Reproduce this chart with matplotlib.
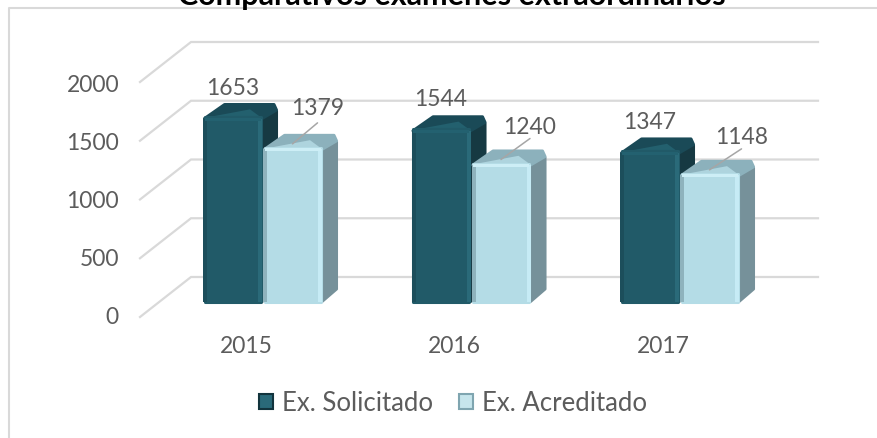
import matplotlib
matplotlib.use("Agg")
import matplotlib.pyplot as plt
from matplotlib.lines import Line2D
from matplotlib.patches import Polygon, Patch

years = ["2015", "2016", "2017"]
solicitado = [1653, 1544, 1347]
acreditado = [1379, 1240, 1148]
axis_ticks = [0, 500, 1000, 1500, 2000]
title = "Comparativos examenes extraordinarios"
series_names = ["Ex. Solicitado", "Ex. Acreditado"]

W, H = 878, 439
plt.rcParams["font.family"] = ["Lato", "DejaVu Sans"]
fig = plt.figure(figsize=(W / 100, H / 100), dpi=100)
TXT = "#5c5c5c"
GRID = "#d9d9d9"
WEIGHT = "normal"

def make_axes(y0_px, px_per_unit, z):
    """Full-figure axes: category i at x=262.5+208.5*i px, value 0 at y0_px."""
    ax = fig.add_axes([0, 0, 1, 1], zorder=z)
    ax.set_xlim(-262.5 / 208.5, (W - 262.5) / 208.5)
    ax.set_ylim(-(H - y0_px) / px_per_unit, y0_px / px_per_unit)
    ax.patch.set_visible(False)
    for s in ax.spines.values():
        s.set_visible(False)
    return ax

# frame: only the left and top edges fall inside the picture
fig.add_artist(Line2D([9.5 / W, 9.5 / W, 1], [0, 1 - 8.5 / H, 1 - 8.5 / H], transform=fig.transFigure,
                      color=GRID, lw=1.5))

# walls: gridlines
wall = make_axes(318, 0.1175, 1)
wall.set_xticks([]); wall.set_yticks([])
back_dy = 40 / 0.1175
xf = 208.5
x_front = (140 - 262.5) / xf
x_back = (191 - 262.5) / xf
x_right = (818 - 262.5) / xf
for v in axis_ticks:
    wall.plot([x_front, x_back, x_right], [v, v + back_dy, v + back_dy], color=GRID, lw=1.6,
              solid_joinstyle="miter")

# axis labels
tk = make_axes(316, 0.1160, 2)
tk.set_xticks([])
tk.set_yticks(axis_ticks)
tk.set_yticklabels([str(v) for v in axis_ticks], fontsize=16.5, color=TXT, fontweight=WEIGHT)
tk.tick_params(axis="y", length=0, direction="in", pad=-119 * 0.72)

# bars
ax = make_axes(304, 0.1125, 3)
ax.set_xticks([]); ax.set_yticks([])
bw = 59 / xf
dx = 16 / xf
dy = 14 / 0.1125
edge = 4 / xf
round_lw = 2.2
in_x = 1.5 / xf
in_y = 1.5 / 0.1125

def bar3d(i, val, off, front, top, facet, side, left_edge, right_edge, top_edge, z):
    x0 = i + off
    x1 = x0 + bw
    ax.add_patch(Polygon([(x1, in_y), (x1 + dx - in_x, dy), (x1 + dx - in_x, val + dy - 8 / 0.1125), (x1, val - in_y)],
                         fc=side, ec=side, lw=round_lw, joinstyle="round", zorder=z))
    ax.add_patch(Polygon([(x0 + in_x, val - in_y), (x0 + dx * 1.35, val + dy - in_y), (x1 + dx * 0.75, val + dy - in_y),
                          (x1 + dx - in_x, val + dy - 7 / 0.1125), (x1, val - in_y)],
                         fc=top, ec=top, lw=round_lw, joinstyle="round", zorder=z))
    # lighter facet that leads from the front of the top towards its centre
    ax.add_patch(Polygon([(x0 + 4 * in_x, val), (x1 - in_x, val), (x1 - 8 * in_x, val + dy * 0.55)],
                         fc=facet, ec="none", zorder=z + 0.05))
    b = ax.bar(x0 + in_x, val - in_y, bottom=in_y, width=bw - 2 * in_x, align="edge", color=front,
               ec=front, lw=round_lw, zorder=z + 0.1)
    b[0].set_joinstyle("round")
    ax.bar(x0, val - 2 * in_y, bottom=in_y, width=edge, align="edge", color=left_edge, zorder=z + 0.2)
    ax.bar(x1 - edge, val - 2 * in_y, bottom=in_y, width=edge, align="edge", color=right_edge, zorder=z + 0.2)
    ax.bar(x0 + in_x, 3 / 0.1125, bottom=val - 3.5 / 0.1125, width=bw - 2 * in_x, align="edge", color=top_edge,
           zorder=z + 0.3)

for i in range(len(years)):
    bar3d(i, solicitado[i], -59.5 / xf, "#215a68", "#1a4a57", "#23606e", "#163942",
          "#1c4e5b", "#2a6a79", "#236170", 3)
    bar3d(i, acreditado[i], 0.5 / xf, "#b4dce6", "#8cb1bc", "#aed4de", "#76919a",
          "#8fb3bd", "#c6ebf5", "#cdeef6", 5)

# data labels
dark_off = [(0, 30), (0, 31), (0, 30)]
light_off = [(25, 40), (29, 37), (32, 37)]
for i in range(len(years)):
    xd = i + (-59.5 + 29.5) / xf
    xl = i + (0.5 + 29.5) / xf
    ax.annotate(str(solicitado[i]), (xd, solicitado[i]), xytext=dark_off[i],
                textcoords="offset pixels", ha="center", va="center", fontsize=16.5, color=TXT,
                fontweight=WEIGHT, zorder=10)
    ax.annotate(str(acreditado[i]), (xl, acreditado[i]), xytext=light_off[i],
                textcoords="offset pixels", ha="center", va="center", fontsize=16.5, color=TXT,
                fontweight=WEIGHT, zorder=10)
    ax.annotate("", (xl, acreditado[i] + 4 / 0.1125), xytext=(light_off[i][0], 21), textcoords="offset pixels",
                arrowprops=dict(arrowstyle="-", color="#a6a6a6", lw=1.1, shrinkA=0, shrinkB=0), zorder=9)

# category labels
for i, y in enumerate(years):
    ax.annotate(y, (i, 0), xytext=(-16.5, -43), textcoords="offset pixels", ha="center", va="center",
                fontsize=16.5, color=TXT, fontweight=WEIGHT, zorder=10)

# legend
handles = [Patch(fc="#2a6a79", ec="#12343d", lw=1.5, label=series_names[0]),
           Patch(fc="#c6e5ec", ec="#7fa5b0", lw=1.5, label=series_names[1])]
leg = ax.legend(handles=handles, loc="center", bbox_to_anchor=(453 / W, 1 - 404 / H), ncol=2, frameon=False,
                labelcolor=TXT, handlelength=0.55, handleheight=0.55, handletextpad=0.35,
                columnspacing=1.0, prop=dict(size=18.5, weight=WEIGHT))

# title (clipped by the top of the picture, as in the reference)
fig.text(452 / W, 1 + 4 / H, title, ha="center", va="center", fontsize=22, fontweight="bold", color="black",
         zorder=20)

fig.savefig("out.png", dpi=100)
